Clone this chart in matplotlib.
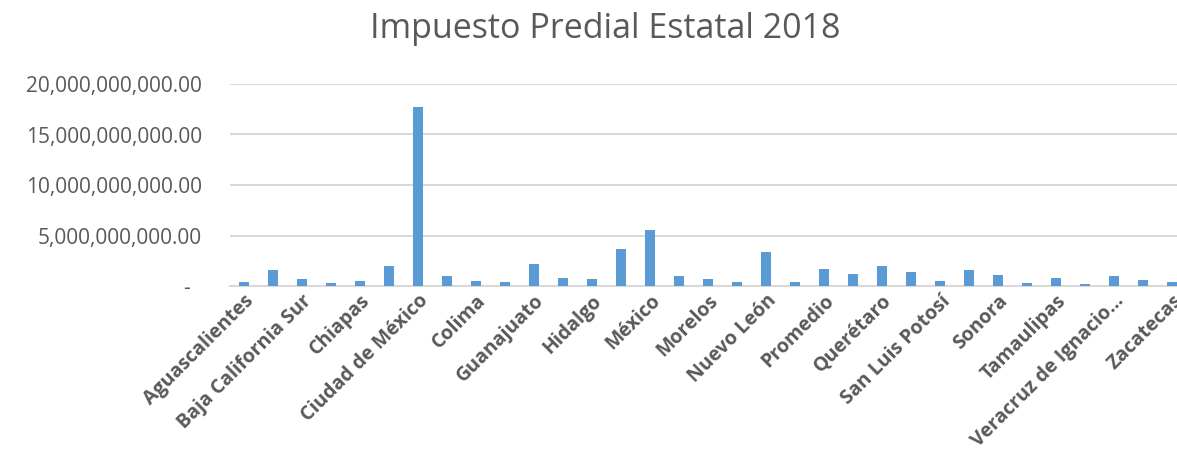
import numpy as np
import matplotlib.pyplot as plt
from matplotlib.ticker import FuncFormatter

estados = ["Aguascalientes", "Baja California", "Baja California Sur", "Campeche",
           "Chiapas", "Chihuahua", "Ciudad de México", "Coahuila", "Colima",
           "Durango", "Guanajuato", "Guerrero", "Hidalgo", "Jalisco", "México",
           "Michoacán", "Morelos", "Nayarit", "Nuevo León", "Oaxaca", "Promedio",
           "Puebla", "Querétaro", "Quintana Roo", "San Luis Potosí", "Sinaloa",
           "Sonora", "Tabasco", "Tamaulipas", "Tlaxcala",
           "Veracruz de Ignacio…", "Yucatán", "Zacatecas"]
# miles de millones de pesos
predial = [0.43, 1.6, 0.66, 0.27, 0.47, 2.0, 17.7, 1.0, 0.47, 0.4,
           2.2, 0.8, 0.66, 3.65, 5.55, 1.03, 0.66, 0.43, 3.37, 0.42,
           1.65, 1.2, 2.0, 1.42, 0.47, 1.6, 1.06, 0.27, 0.8, 0.2,
           1.0, 0.6, 0.43]
yticks = [0, 5e9, 10e9, 15e9, 20e9]

gris = '#595959'
fig = plt.figure(figsize=(11.77, 4.59), dpi=100)
ax = fig.add_axes([229.5 / 1177, 1 - 286 / 459, 957 / 1177, 202 / 459])

x = np.arange(len(estados))
valores = np.array(predial) * 1e9
ax.bar(x, valores, width=0.37, color='#5b9bd5', zorder=3)

ax.set_xlim(-0.5, len(estados) - 0.5)
ax.set_ylim(0, 20e9)
ax.set_yticks(yticks)
ax.yaxis.set_major_formatter(FuncFormatter(lambda v, p: '-  ' if v == 0 else f'{v:,.2f}'))
ax.grid(axis='y', color='#d9d9d9', linewidth=1.5, zorder=0)
for s in ['top', 'right', 'left']:
    ax.spines[s].set_visible(False)
ax.spines['bottom'].set_color('#d9d9d9')
ax.spines['bottom'].set_linewidth(1.5)
ax.tick_params(axis='both', length=0, colors=gris)
ax.tick_params(axis='y', labelsize=15, pad=20)
for t in ax.get_yticklabels():
    t.set_fontfamily('Open Sans')

ax.set_xticks(x[::2])
ax.set_xticklabels(estados[::2], rotation=45, ha='right', rotation_mode='anchor',
                   fontsize=14, fontweight='bold', color=gris, family='Open Sans')

fig.text(605 / 1177, 1 - 29 / 459, 'Impuesto Predial Estatal 2018', ha='center', va='center',
         fontsize=24.5, color=gris, family='Open Sans')

fig.savefig('out.png', dpi=100)
